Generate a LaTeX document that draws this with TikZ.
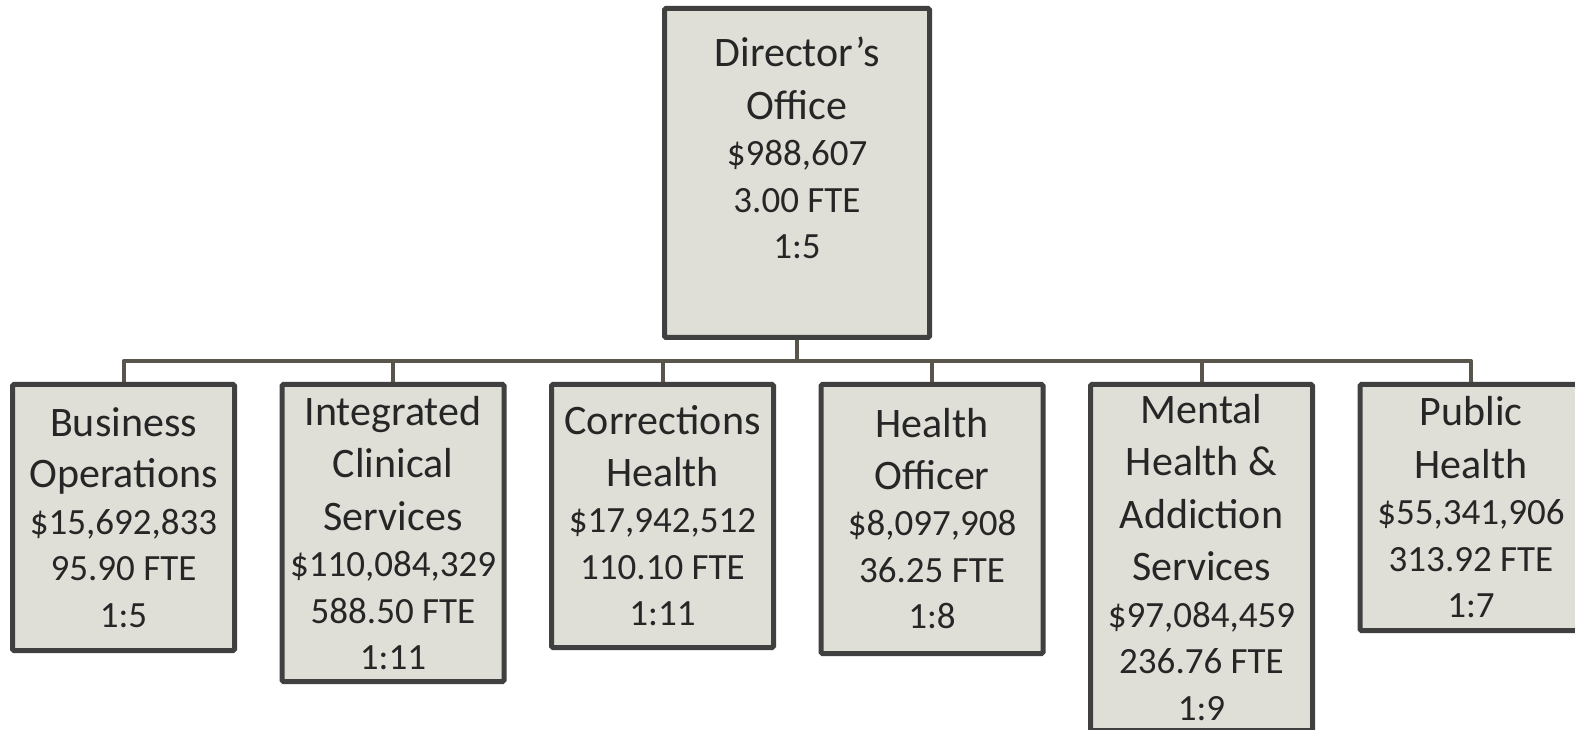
\documentclass[tikz,border=0pt]{standalone}
\usepackage{fontspec}
\setmainfont{Carlito}
\usetikzlibrary{positioning}
\definecolor{boxfill}{RGB}{223,223,215}
\definecolor{boxline}{RGB}{64,64,64}
\definecolor{linkcol}{RGB}{89,84,76}
\definecolor{inkcol}{RGB}{38,38,38}
\newcommand{\dept}[1]{{\fontsize{42pt}{50pt}\selectfont #1}}
\begin{document}
\begin{tikzpicture}[x=1pt, y=1pt, node distance={42.5pt},
  unit/.style = {draw=boxline, fill=boxfill, line width=5pt, rounded corners=1.5pt, text=inkcol, align=center, minimum width=222pt, inner sep=0pt, font=\fontsize{37pt}{46.5pt}\selectfont},
  txt/.style = {text=inkcol, align=center, inner sep=0pt, font=\fontsize{37pt}{46.5pt}\selectfont},
  link/.style = {draw=linkcol, line width=4pt, line join=round}]
\useasboundingbox (0,0) rectangle (1575,729);

\node[unit, minimum width=265pt, minimum height=329pt, anchor=north] (dir) at (797,723) {};
\node[txt] (dirtext) [below=31pt of dir.north] {\dept{Director’s}\\[6pt]\dept{Office}\\\$988,607\\3.00 FTE\\1:5};

\node[unit, minimum height=266pt, anchor=north west] (bo) at (10,347) {\dept{Business}\\[5pt]\dept{Operations}\\\$15,692,833\\95.90 FTE\\1:5};
\node[unit, minimum height=297pt] (ics) [right=of bo.north east, anchor=north west] {\dept{Integrated}\\[6pt]\dept{Clinical}\\[6pt]\dept{Services}\\\$110,084,329\\588.50 FTE\\1:11};
\node[unit, minimum height=263pt] (ch) [right=of ics.north east, anchor=north west] {\dept{Corrections}\\[5pt]\dept{Health}\\\$17,942,512\\110.10 FTE\\1:11};
\node[unit, minimum height=269pt] (ho) [right=of ch.north east, anchor=north west] {\dept{Health}\\[5pt]\dept{Officer}\\\$8,097,908\\36.25 FTE\\1:8};
\node[unit, minimum height=346pt] (mh) [right=of ho.north east, anchor=north west] {\dept{Mental}\\[6pt]\dept{Health \&}\\[6pt]\dept{Addiction}\\[6pt]\dept{Services}\\\$97,084,459\\236.76 FTE\\1:9};
\node[unit, minimum height=246pt] (ph) [right=of mh.north east, anchor=north west] {\dept{Public}\\[6pt]\dept{Health}\\\$55,341,906\\313.92 FTE\\1:7};

\draw[link] (dir.south) -- ++(0,-21) -| (bo.north);
\draw[link] (dir.south) -- ++(0,-21) -| (ics.north);
\draw[link] (dir.south) -- ++(0,-21) -| (ch.north);
\draw[link] (dir.south) -- ++(0,-21) -| (ho.north);
\draw[link] (dir.south) -- ++(0,-21) -| (mh.north);
\draw[link] (dir.south) -- ++(0,-21) -| (ph.north);

\end{tikzpicture}
\end{document}
